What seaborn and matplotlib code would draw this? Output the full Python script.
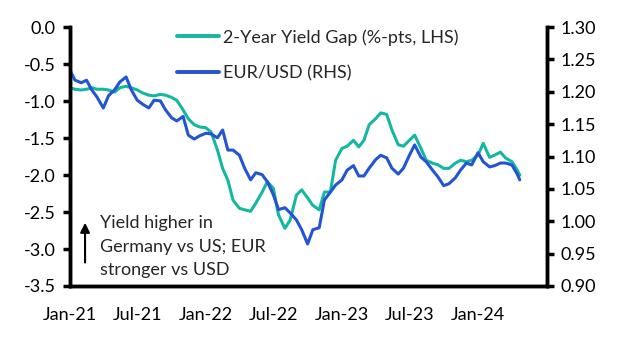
import matplotlib
matplotlib.use("Agg")
import matplotlib.pyplot as plt
import matplotlib.dates as mdates
import seaborn as sns
import pandas as pd

# semi-monthly readings, Jan-21 .. late Apr-24
dates = pd.date_range("2021-01-01", "2024-04-15", freq="SMS").append(pd.DatetimeIndex(["2024-04-22"]))

yield_gap = [
    -0.82, -0.84, -0.85, -0.84, -0.82, -0.84, -0.84, -0.85, -0.88, -0.82,
    -0.80, -0.82, -0.85, -0.89, -0.92, -0.93, -0.91, -0.92, -0.95, -0.99,
    -1.12, -1.24, -1.32, -1.35, -1.36, -1.42, -1.66, -1.91, -2.07, -2.34,
    -2.45, -2.47, -2.49, -2.38, -2.23, -2.09, -2.18, -2.54, -2.72, -2.61,
    -2.27, -2.20, -2.31, -2.41, -2.47, -2.23, -2.23, -1.80, -1.64, -1.61,
    -1.53, -1.62, -1.53, -1.32, -1.24, -1.16, -1.18, -1.39, -1.59, -1.61,
    -1.53, -1.46, -1.64, -1.80, -1.84, -1.86, -1.91, -1.91, -1.84, -1.80,
    -1.82, -1.80, -1.73, -1.57, -1.76, -1.73, -1.69, -1.77, -1.82, -1.93,
    -2.00,
]

eurusd = [
    1.234, 1.218, 1.214, 1.218, 1.203, 1.192, 1.175, 1.194, 1.203, 1.215,
    1.223, 1.203, 1.187, 1.181, 1.175, 1.187, 1.186, 1.172, 1.160, 1.155,
    1.162, 1.133, 1.127, 1.132, 1.136, 1.135, 1.129, 1.141, 1.110, 1.110,
    1.102, 1.082, 1.064, 1.075, 1.072, 1.061, 1.041, 1.018, 1.021, 1.013,
    1.002, 0.987, 0.965, 0.987, 0.990, 1.033, 1.045, 1.056, 1.064, 1.079,
    1.086, 1.070, 1.070, 1.082, 1.095, 1.102, 1.098, 1.082, 1.073, 1.082,
    1.102, 1.118, 1.099, 1.092, 1.079, 1.069, 1.055, 1.058, 1.067, 1.079,
    1.090, 1.087, 1.106, 1.092, 1.084, 1.086, 1.090, 1.090, 1.087, 1.073,
    1.064,
]

df = pd.DataFrame({"date": dates, "gap": yield_gap, "fx": eurusd})

teal = "#14b8a0"
blue = "#2354d2"

sns.set_style("white")
plt.rcParams["font.family"] = ["Lato", "DejaVu Sans"]
plt.rcParams["font.size"] = 13

fig = plt.figure(figsize=(6.23, 3.52), dpi=100)
ax = fig.add_axes([0.112, 0.1875, 0.766, 0.7355])
ax2 = ax.twinx()

sns.lineplot(data=df, x="date", y="gap", ax=ax, color=teal, lw=2.2, label="2-Year Yield Gap (%-pts, LHS)", legend=False)
sns.lineplot(data=df, x="date", y="fx", ax=ax2, color=blue, lw=2.2, label="EUR/USD (RHS)", legend=False)

ax.set_ylim(-3.5, 0.0)
left_ticks = [0.0, -0.5, -1.0, -1.5, -2.0, -2.5, -3.0, -3.5]
ax.set_yticks(left_ticks)
ax.set_yticklabels([f"{v:.1f}" for v in left_ticks])
ax2.set_ylim(0.90, 1.30)
right_ticks = [0.90, 0.95, 1.00, 1.05, 1.10, 1.15, 1.20, 1.25, 1.30]
ax2.set_yticks(right_ticks)
ax2.set_yticklabels([f"{v:.2f}" for v in right_ticks])

ax.set_xlim(pd.Timestamp("2021-01-01"), pd.Timestamp("2024-07-04"))
ax.xaxis.set_major_locator(mdates.MonthLocator(bymonth=[1, 7]))
ax.xaxis.set_major_formatter(mdates.DateFormatter("%b-%y"))
ax.set_xticks(ax.get_xticks()[:-1])

for a in (ax, ax2):
    a.set_xlabel("")
    a.set_ylabel("")
    for s in a.spines.values():
        s.set_linewidth(2.5)
        s.set_color("black")
    a.spines["top"].set_visible(False)
    a.tick_params(direction="out", length=5, width=2.5, colors="black", labelcolor="black", pad=5)
ax.tick_params(axis="x", pad=10)

h1, l1 = ax.get_legend_handles_labels()
h2, l2 = ax2.get_legend_handles_labels()
ax2.legend(h1 + h2, l1 + l2, loc="upper left", bbox_to_anchor=(0.21, 1.02), frameon=False,
           handlelength=2.3, handletextpad=0.25, labelspacing=1.1, borderaxespad=0)
for line in ax2.get_legend().get_lines():
    line.set_linewidth(2.8)

ax.annotate("", xy=(0.032, 0.255), xytext=(0.032, 0.08), xycoords="axes fraction",
            arrowprops=dict(arrowstyle="-|>", color="black", lw=1.5, mutation_scale=14))
ax.text(0.064, 0.275, "Yield higher in\nGermany vs US; EUR\nstronger vs USD", transform=ax.transAxes,
        va="top", ha="left", linespacing=1.6)

fig.savefig("out.png", dpi=100)
